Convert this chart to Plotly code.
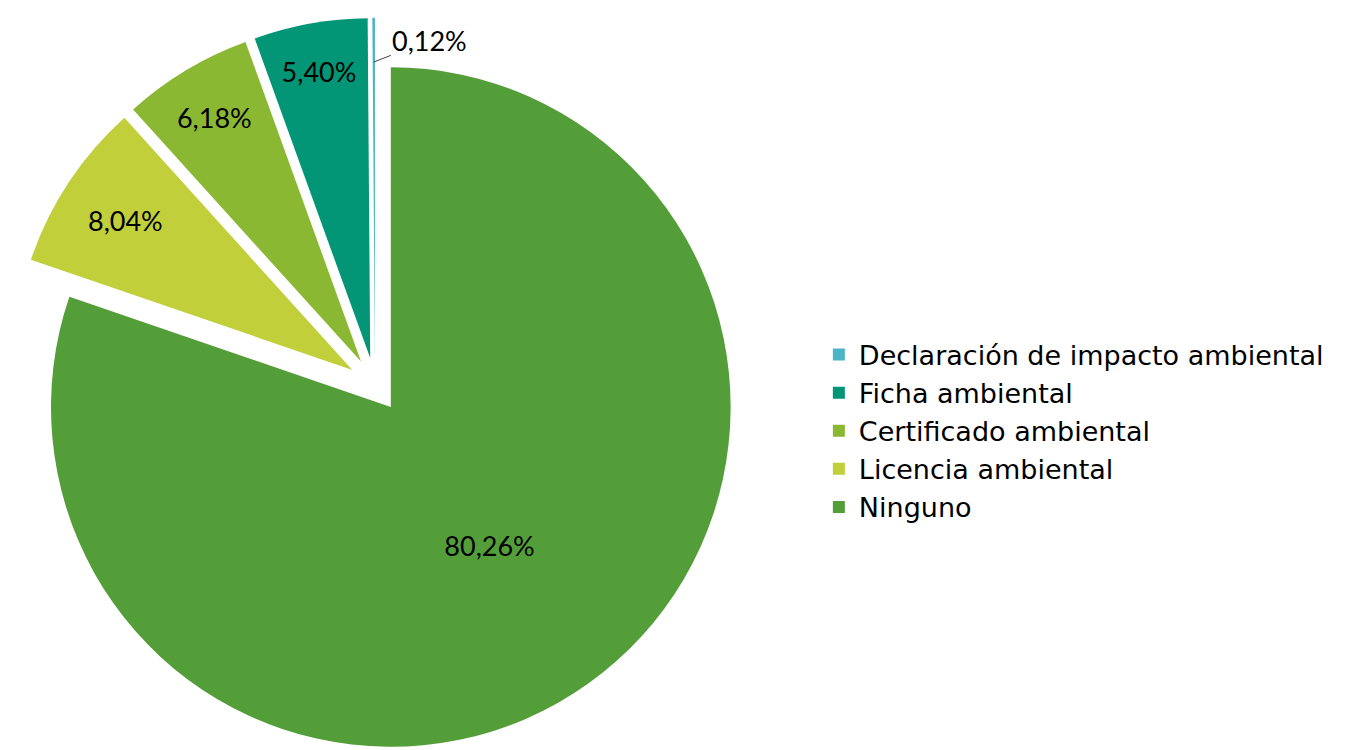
import math
import plotly.graph_objects as go

labels = ["Ninguno", "Licencia ambiental", "Certificado ambiental", "Ficha ambiental", "Declaración de impacto ambiental"]
values = [80.26, 8.04, 6.18, 5.40, 0.12]
colors = ["#549E39", "#C0CF3A", "#8AB833", "#029676", "#4AB5C4"]

W, H = 1372, 750
PULL = 0.08
DOM_X = [0, 0.535]
DOM_Y = [0, 0.995]

text_positions = ["inside"] * (len(values) - 1) + ["none"]

fig = go.Figure(go.Pie(
    labels=labels,
    values=values,
    sort=False,
    direction="clockwise",
    rotation=0,
    pull=[PULL] * len(values),
    marker=dict(colors=colors, line=dict(width=0)),
    texttemplate="%{value:.2f}%",
    textposition=text_positions,
    insidetextorientation="horizontal",
    textfont=dict(family="Lato", size=27, color="#000000"),
    hoverinfo="label+value",
    automargin=False,
    domain=dict(x=DOM_X, y=DOM_Y),
))

# label of the tiny last slice, placed outside with a leader line (position derived from the data)
total = sum(values)
mid = (sum(values[:-1]) + values[-1] / 2) / total * 2 * math.pi
box_w = W * (DOM_X[1] - DOM_X[0])
box_h = H * (DOM_Y[1] - DOM_Y[0])
r = min(box_w, box_h) / (2 + 2 * PULL)
cx = W * (DOM_X[0] + DOM_X[1]) / 2
cy = H * (1 - (DOM_Y[0] + DOM_Y[1]) / 2)
dist = r * PULL + r * 0.87
tx = cx + dist * math.sin(mid)
ty = cy - dist * math.cos(mid)
fig.add_annotation(
    x=tx / W, y=1 - ty / H, xref="paper", yref="paper",
    text=f"{values[-1]:.2f}".replace(".", ",") + "%",
    showarrow=True, arrowhead=0, arrowwidth=1, arrowcolor="#404040",
    ax=56, ay=-22,
    font=dict(family="Lato", size=27, color="#000000"),
)

fig.update_layout(
    width=W, height=H,
    margin=dict(l=0, r=0, t=0, b=0, autoexpand=False),
    separators=",.",
    paper_bgcolor="white",
    plot_bgcolor="white",
    legend=dict(
        traceorder="reversed",
        x=0.591, xanchor="left",
        y=0.436, yanchor="middle",
        font=dict(family="DejaVu Sans", size=27, color="#000000"),
        itemwidth=30,
    ),
)

fig.write_html("out.html")
